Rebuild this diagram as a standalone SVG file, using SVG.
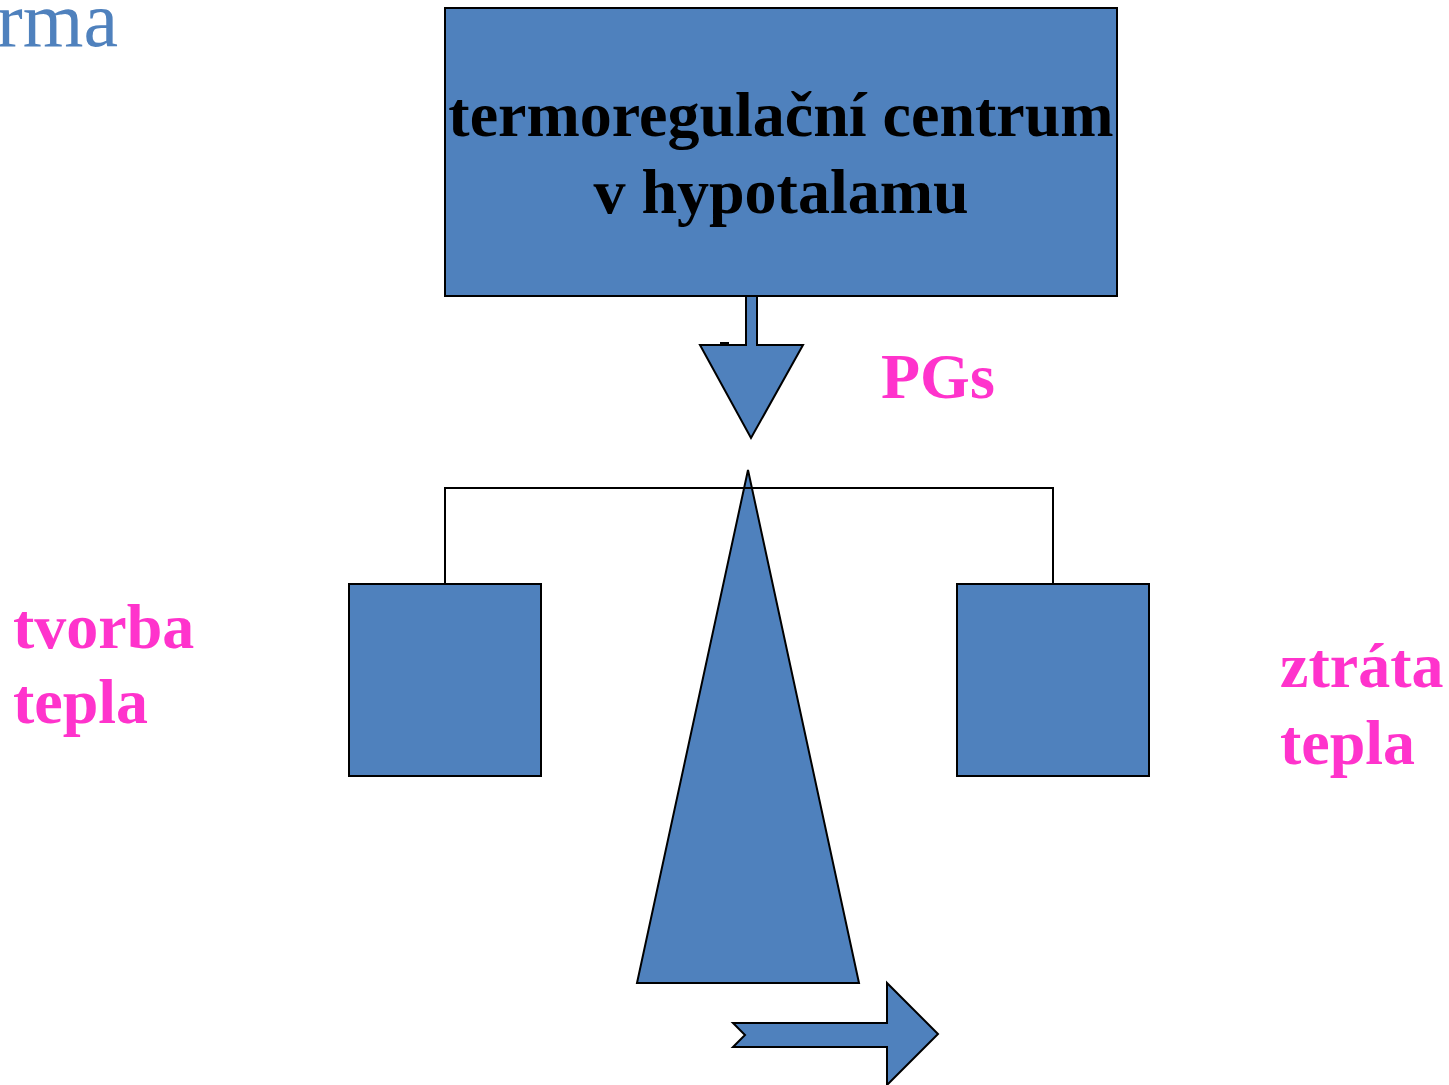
<svg xmlns="http://www.w3.org/2000/svg" width="1449" height="1085" viewBox="0 0 1449 1085">
<style>
.shape{fill:#4F81BD;stroke:#000;stroke-width:2;stroke-linejoin:miter}
.conn{fill:none;stroke:#000;stroke-width:2}
.lbl{font-family:"Liberation Serif","Times New Roman",serif;font-weight:bold;font-size:64px}
.pink{fill:#FF33CC}
</style>
<rect width="1449" height="1085" fill="#fff"/>
<text x="118" y="46" text-anchor="end" font-family="Liberation Serif, Times New Roman, serif" font-size="78" fill="#4F81BD">rma</text>
<g id="centrum">
<rect class="shape" x="445" y="8" width="672" height="288"/>
<text class="lbl" x="781" y="136" text-anchor="middle" fill="#000">termoregulační centrum</text>
<text class="lbl" x="781" y="213" text-anchor="middle" fill="#000">v hypotalamu</text>
</g>
<g id="down-arrow">
<polygon class="shape" points="746,296 757,296 757,345 803,345 751,438 700,345 746,345"/>
<line x1="720" y1="343" x2="729" y2="343" stroke="#000" stroke-width="2"/>
</g>
<g id="pgs"><text class="lbl pink" x="881" y="398">PGs</text></g>
<g id="tvorba-box"><rect class="shape" x="349" y="584" width="192" height="192"/></g>
<g id="ztrata-box"><rect class="shape" x="957" y="584" width="192" height="192"/></g>
<g id="triangle"><polygon class="shape" points="748,470 859,983 637,983"/></g>
<g id="connectors">
<polyline class="conn" points="445,584 445,488 1053,488 1053,584"/>
</g>
<g id="right-arrow">
<polygon class="shape" points="733,1023 887,1023 887,983 938,1034 887,1085 887,1047 733,1047 745,1035"/>
</g>
<g id="tvorba-label">
<text class="lbl pink" x="13" y="648">tvorba</text>
<text class="lbl pink" x="13" y="723">tepla</text>
</g>
<g id="ztrata-label">
<text class="lbl pink" x="1280" y="687">ztráta</text>
<text class="lbl pink" x="1280" y="764">tepla</text>
</g>
</svg>
